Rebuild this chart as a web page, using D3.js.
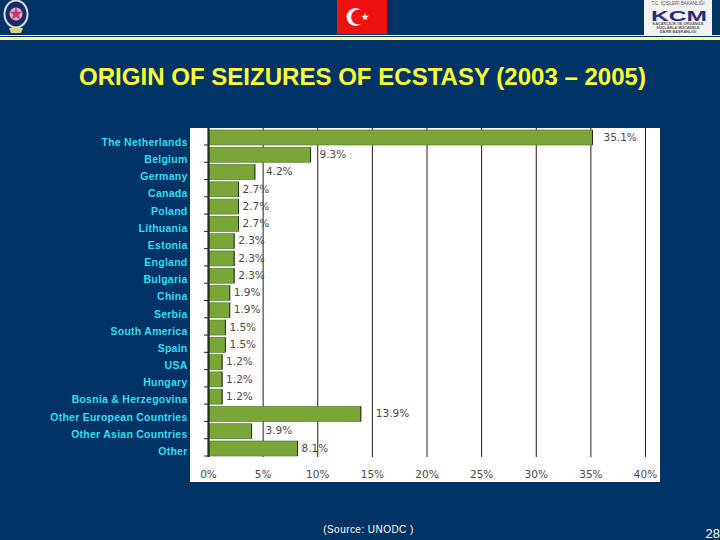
<!DOCTYPE html>
<html><head><meta charset="utf-8">
<script src="https://cdn.jsdelivr.net/npm/d3@7"></script>
<style>html,body{margin:0;padding:0;background:#003366}svg{display:block}</style>
</head><body><svg id="c" width="720" height="540"></svg>
<script>
const categories=["The Netherlands","Belgium","Germany","Canada","Poland","Lithuania","Estonia","England","Bulgaria","China","Serbia","South America","Spain","USA","Hungary","Bosnia & Herzegovina","Other European Countries","Other Asian Countries","Other"];
const shares=[35.1,9.3,4.2,2.7,2.7,2.7,2.3,2.3,2.3,1.9,1.9,1.5,1.5,1.2,1.2,1.2,13.9,3.9,8.1];
const xTicks=[0,5,10,15,20,25,30,35,40];
const labelGap=[10,8,10,3,3,3,3,3,3,3,3,3,3,3,3,3,14,13,3];
const title="ORIGIN OF SEIZURES OF ECSTASY (2003 – 2005)";
const source="(Source: UNODC )";
const pageNo="28";

const svg=d3.select("#c");
const sans="'Liberation Sans',Arial,sans-serif", chartFont="'DejaVu Sans',Verdana,sans-serif";
svg.append("rect").attr("width",720).attr("height",540).attr("fill","#003366");

// header rules
svg.append("rect").attr("x",0).attr("y",35).attr("width",720).attr("height",1).attr("fill","#ffff99");
svg.append("rect").attr("x",0).attr("y",37).attr("width",720).attr("height",3).attr("fill","#ffff99");

// flag
const flag=svg.append("g");
flag.append("rect").attr("x",337).attr("y",0).attr("width",50).attr("height",34).attr("fill","#f01010");
flag.append("circle").attr("cx",355.5).attr("cy",17).attr("r",9).attr("fill","#fff");
flag.append("circle").attr("cx",358.5).attr("cy",17).attr("r",7.4).attr("fill","#f01010");
flag.append("path").attr("transform","translate(365,17)").attr("d",d3.symbol(d3.symbolStar,20)).attr("fill","#fff");

// left emblem
const em=svg.append("g").attr("transform","translate(16,14)");
em.append("ellipse").attr("rx",12.5).attr("ry",14.5).attr("fill","#d8dde8");
em.append("ellipse").attr("rx",10.5).attr("ry",12.5).attr("fill","#1a2a66");
em.append("circle").attr("r",6.5).attr("fill","#c9b8d8");
em.append("path").attr("d",d3.symbol(d3.symbolStar,55)).attr("fill","#d03060");
em.append("path").attr("transform","translate(0,14)").attr("d","M-7,0H7L5,5H-5Z").attr("fill","#d8d28a");

// right logo
const lg=svg.append("g");
lg.append("rect").attr("x",644).attr("y",0).attr("width",68).attr("height",35).attr("fill","#f2f2f2");
lg.append("text").attr("x",678).attr("y",5).attr("text-anchor","middle").attr("font-family",sans).attr("font-size",4.5).attr("fill","#555").text("T.C. İÇİŞLERİ BAKANLIĞI");
lg.append("text").attr("x",679).attr("y",20.5).attr("text-anchor","middle").attr("font-family",sans).attr("font-weight","bold").attr("font-size",14).attr("textLength",56).attr("lengthAdjust","spacingAndGlyphs").attr("fill","#2a2a80").text("KCM");
["KAÇAKÇILIK VE ORGANİZE","SUÇLARLA MÜCADELE","DAİRE BAŞKANLIĞI"].forEach((t,i)=>lg.append("text").attr("x",678).attr("y",25+i*3.8).attr("text-anchor","middle").attr("font-family",sans).attr("font-weight","bold").attr("font-size",3.8).attr("fill","#555").text(t));

// title
svg.append("text").attr("x",362.5).attr("y",85).attr("text-anchor","middle").attr("font-family",sans).attr("font-weight","bold").attr("font-size",24).attr("textLength",567).attr("lengthAdjust","spacingAndGlyphs").attr("fill","#ffff33").text(title);

// chart panel
svg.append("rect").attr("x",190).attr("y",128).attr("width",470).attr("height",354).attr("fill","#fff");

const x=d3.scaleLinear().domain([0,40]).range([208,645]);
const y=d3.scaleBand().domain(categories).range([127.7,456]);
const yLabel=d3.scaleBand().domain(categories).range([134,460.2]);
const barH=15;
const dark="#22301a", tickGrey="#4a4a4a";

// grid + x tick labels through axis
const gx=svg.append("g").attr("transform","translate(0,457)").call(
  d3.axisBottom(x).tickValues(xTicks).tickSize(-329).tickPadding(14).tickFormat(d=>d+"%"));
gx.select(".domain").remove();
gx.selectAll("line").attr("stroke","#222").attr("stroke-width",1);
gx.selectAll("text").attr("font-family",chartFont).attr("font-size",10.5).attr("fill",tickGrey);

// bars
const bars=svg.append("g").selectAll("g").data(categories).join("g");
bars.append("rect").attr("x",x(0)+1).attr("y",d=>y(d)+y.bandwidth()-barH)
  .attr("width",(d,i)=>x(shares[i])-x(0)).attr("height",barH)
  .attr("fill","#7aa637").attr("stroke","#4d6b2a").attr("stroke-width",.6);
bars.append("rect").attr("x",(d,i)=>x(shares[i])+.5).attr("y",d=>y(d)+y.bandwidth()-barH)
  .attr("width",1).attr("height",barH).attr("fill",dark);

// baseline and row ticks
svg.append("line").attr("x1",208.5).attr("x2",208.5).attr("y1",128).attr("y2",457).attr("stroke",dark).attr("stroke-width",2.2);
svg.append("g").selectAll("line").data(categories).join("line")
  .attr("x1",204).attr("x2",208).attr("y1",d=>y(d)+y.bandwidth()).attr("y2",d=>y(d)+y.bandwidth())
  .attr("stroke","#222");

// category labels
const gy=svg.append("g").attr("transform","translate(187.5,0)").call(
  d3.axisLeft(yLabel).tickSize(0).tickPadding(0));
gy.select(".domain").remove();
gy.selectAll("text").attr("font-family",sans).attr("font-weight","bold").attr("font-size",10.5)
  .attr("letter-spacing",.25).attr("fill","#33ddee");

// value labels
svg.append("g").selectAll("text").data(categories).join("text")
  .attr("x",(d,i)=>x(shares[i])+2+labelGap[i]).attr("y",d=>y(d)+9.3)
  .attr("dy","0.35em").attr("font-family",chartFont).attr("font-size",10.5).attr("fill",tickGrey)
  .text((d,i)=>shares[i].toFixed(1)+"%");

// footer
svg.append("text").attr("x",368.5).attr("y",533).attr("text-anchor","middle").attr("font-family",sans).attr("font-size",10).attr("letter-spacing",.45).attr("fill","#fff").text(source);
svg.append("text").attr("x",705.5).attr("y",538).attr("font-family",sans).attr("font-size",13).attr("fill","#fff").text(pageNo);
</script></body></html>
